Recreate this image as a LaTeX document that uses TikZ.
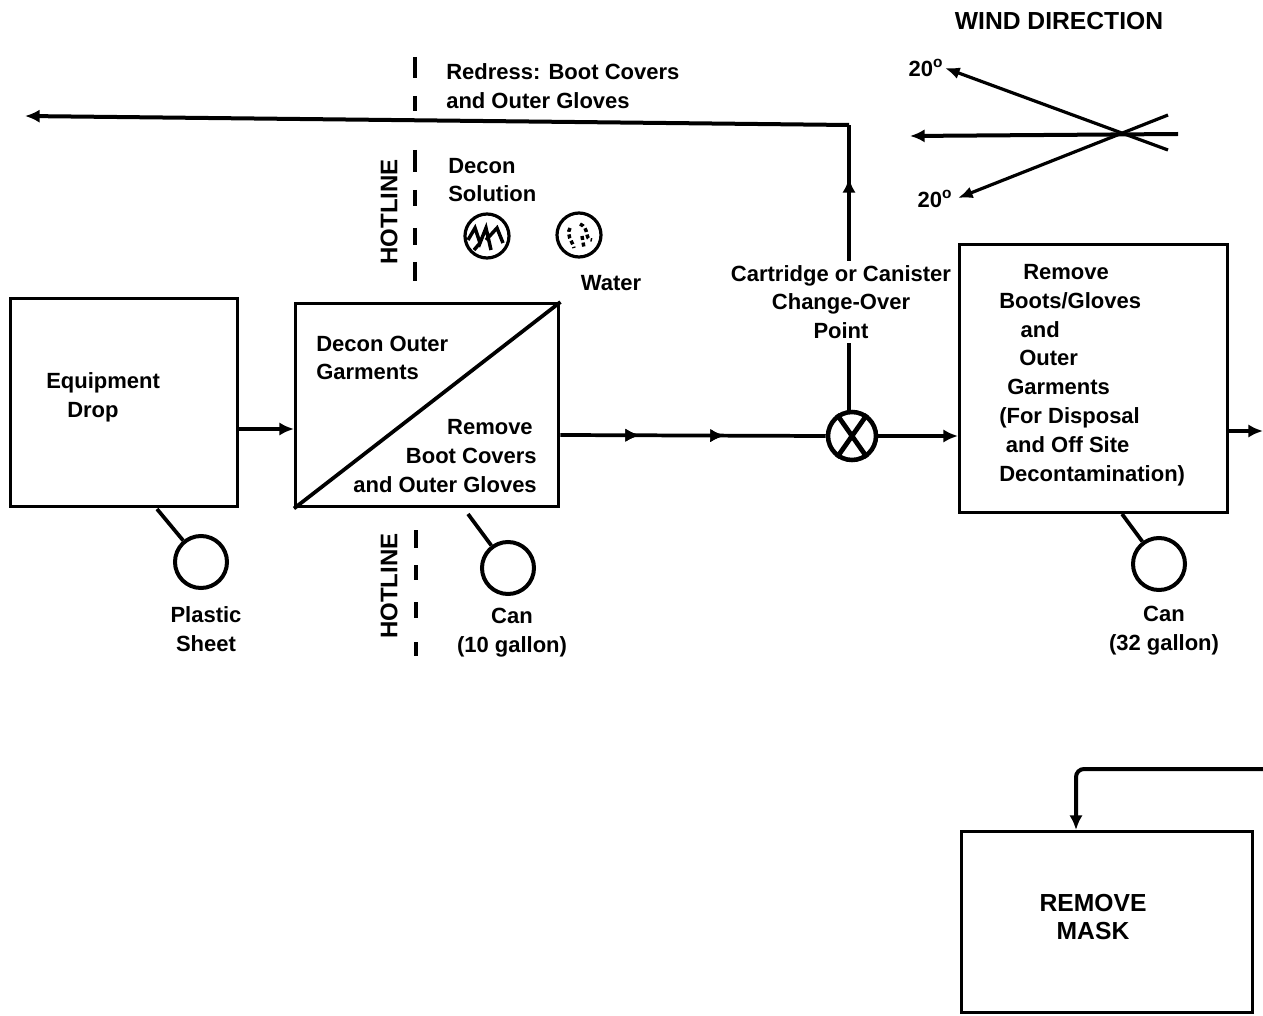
\documentclass[tikz,border=0pt]{standalone}
\usepackage{fontspec}
\setmainfont{Liberation Sans}
\usetikzlibrary{arrows.meta,decorations.markings}
\tikzset{
  box/.style={draw,line width=2.6pt,inner sep=0pt,anchor=north west},
  can/.style={draw,circle,line width=3pt,minimum size=39pt,inner sep=0pt},
  flow/.style={line width=3pt,-{Latex[length=11pt,width=10pt]}},
  plain/.style={line width=2.8pt},
  thin flow/.style={line width=2.4pt,-{Latex[length=11pt,width=9pt]}},
  dashline/.style={line width=2.6pt},
  lbl/.style={inner sep=0pt,font=\fontsize{16.5}{21.6}\selectfont\bfseries,align=left},
  big/.style={inner sep=0pt,font=\fontsize{18.5}{21.6}\selectfont\bfseries,align=center},
  hot/.style={inner sep=0pt,rotate=90,font=\fontsize{18}{18}\selectfont\bfseries},
  midtips/.style={postaction={decorate},decoration={markings,
    mark=at position #1 with {\arrow{Latex[length=11pt,width=10pt]}}}},
}
\begin{document}
\begin{tikzpicture}[x=0.75pt,y=-0.75pt]
\useasboundingbox (0,0) rectangle (1263,1016);
% boxes
\node[box,minimum width=170.25pt,minimum height=156pt] (b1) at (9,297) {};
\node[box,minimum width=197.25pt,minimum height=152.25pt] (b2) at (294,302) {};
\node[box,minimum width=201pt,minimum height=201pt] (b3) at (958,243) {};
\node[box,minimum width=218.25pt,minimum height=135.75pt] (b4) at (960,830) {};
\draw[plain] (b2.south west) -- (b2.north east);
% changeover
\node[draw,circle,line width=3.4pt,minimum size=36pt,inner sep=0pt] (x) at (852,436) {};
\draw[line width=3.6pt] (x.55) -- (x.235) (x.125) -- (x.305);
% cans
\node[can] (c1) at (201,562) {};
\node[can] (c2) at (508,568) {};
\node[can] (c3) at (1159,564) {};
\coordinate (c1s) at (157,509);
\coordinate (c2s) at (468,514);
\coordinate (c3s) at (1122,514);
\draw[plain] (c1s) -- (c1);
\draw[plain] (c2s) -- (c2);
\draw[plain] (c3s) -- (c3);
% drums
\node[draw,circle,line width=2.4pt,minimum size=33pt,inner sep=0pt] (d1) at (487,236) {};
\node[draw,circle,line width=2.4pt,minimum size=33pt,inner sep=0pt] (d2) at (579,235) {};
\draw[line width=2.6pt] (468,240) -- (475,228) -- (480,243) -- (486,228) -- (491,250) (480,243) -- (474,250) (486,240) -- (497,228) -- (503,243);
\draw[line width=2.6pt,dash pattern=on 3pt off 2pt] (570,228) .. controls (566,236) and (572,240) .. (574,248) (580,224) .. controls (590,228) and (584,240) .. (592,240) (582,236) -- (584,248);
% labels
\node[lbl,anchor=west] (eq) at (46,383) {Equipment};
\node[lbl,anchor=west] (eq2) at (67,412) {Drop};
\node[lbl,anchor=west] (dg) at (316,358) {Decon Outer\\Garments};
\node[lbl,anchor=north east,align=right] (rb) at (537,419) {Remove\hspace*{3pt}\\Boot Covers\hspace*{3pt}\\and Outer Gloves};
\node[lbl,anchor=west] (rd) at (446,86) {Redress: Boot Covers\\and Outer Gloves};
\node[lbl,anchor=west] (ds) at (448,180) {Decon\\Solution};
\node[lbl] (wa) at (611,283) {Water};
\node[lbl,align=center] (ps) at (206,629) {Plastic\\Sheet};
\node[lbl,align=center] (cn1) at (512,633) {Can\\(10 gallon)};
\node[lbl,align=center] (cn2) at (1164,631) {Can\\(32 gallon)};
\node[lbl,align=center,fill=white,inner ysep=3pt] (cc) at (841,302) {Cartridge or Canister\\Change-Over\\Point};
\node[lbl,anchor=north west] (rm) at (999,264) {\hspace*{18pt}Remove\\Boots/Gloves\\\hspace*{16pt}and\\\hspace*{15pt}Outer\\\hspace*{6pt}Garments\\(For Disposal\\\hspace*{5pt}and Off Site\\Decontamination)};
\node[big] (rmk) at (1093,917) {REMOVE\\MASK};
\node[big] (wd) at (1059,21) {WIND DIRECTION};
\node[lbl] (a1) at (926,68) {20$^{\mathbf{o}}$};
\node[lbl] (a2) at (935,199) {20$^{\mathbf{o}}$};
\node[hot] (h1) at (389,212) {HOTLINE};
\node[hot] (h2) at (389,586) {HOTLINE};
% hot line dashes
\coordinate (t1) at (415,57); \coordinate (t2) at (415,78);
\coordinate (t3) at (415,96); \coordinate (t4) at (415,111);
\coordinate (t5) at (415,150); \coordinate (t6) at (415,172);
\coordinate (t7) at (415,190); \coordinate (t8) at (415,206);
\coordinate (t9) at (415,228); \coordinate (t10) at (415,245);
\coordinate (t11) at (415,262); \coordinate (t12) at (415,281);
\coordinate (u1) at (416,530); \coordinate (u2) at (416,548);
\coordinate (u3) at (416,565); \coordinate (u4) at (416,580);
\coordinate (u5) at (416,602); \coordinate (u6) at (416,618);
\coordinate (u7) at (416,642); \coordinate (u8) at (416,656);
\draw[dashline] (t1)--(t2) (t3)--(t4) (t5)--(t6) (t7)--(t8) (t9)--(t10) (t11)--(t12)
  (u1)--(u2) (u3)--(u4) (u5)--(u6) (u7)--(u8);
% flows
\draw[flow] (b1.east |- 0,429) -- (b2.west |- 0,429);
\draw[plain,midtips=0.3,midtips=0.62] (b2.east |- 0,435) -- (x.west);
\draw[flow] (x.east) -- (b3.west |- x);
\coordinate (out) at (1263,431);
\draw[flow] (b3.east |- out) -- (out);
\coordinate (tc) at (849,125);
\coordinate (lf) at (25,116);
\draw[plain] (x.north -| tc) -- (cc.south -| tc);
\draw[plain,midtips=0.61] (cc.north -| tc) -- (tc);
\draw[flow] (tc) -- (lf);
\coordinate (rr) at (1263,769);
\coordinate (rc) at (1076,769);
\draw[flow,rounded corners=6pt] (rr) -- (rc) -- (b4.north -| rc);
% wind
\coordinate (w0) at (1178,134); \coordinate (w1) at (910,136);
\coordinate (w2) at (1168,150); \coordinate (w3) at (945,68);
\coordinate (w4) at (1168,115); \coordinate (w5) at (958,198);
\draw[flow] (w0) -- (w1);
\draw[thin flow] (w2) -- (w3);
\draw[thin flow] (w4) -- (w5);
\end{tikzpicture}
\end{document}
